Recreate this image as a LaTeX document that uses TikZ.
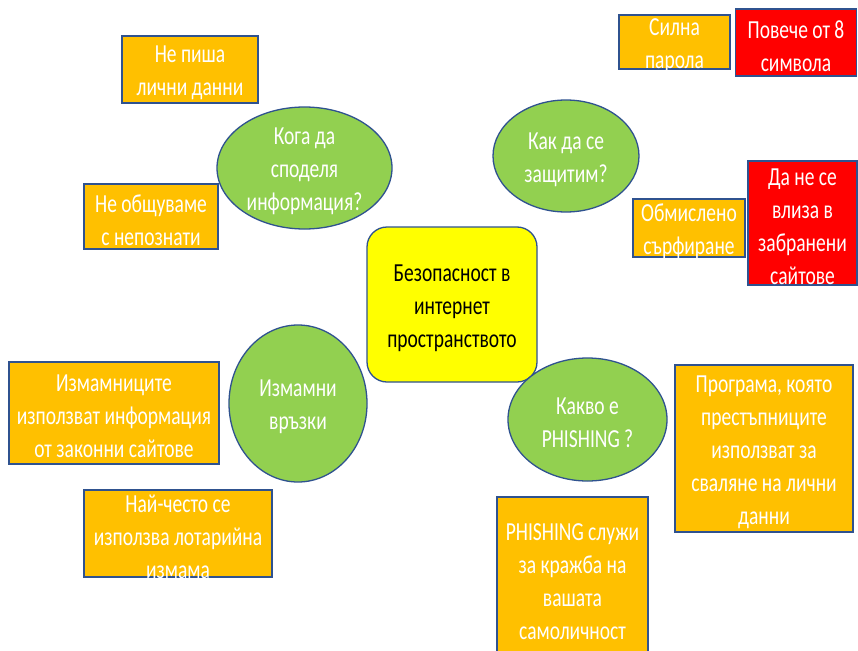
\documentclass[tikz,border=0pt]{standalone}
\usepackage{fontspec}
\newfontfamily\calfont{Carlito}[FakeStretch=0.75]
\usetikzlibrary{shapes.geometric}
\definecolor{edge}{HTML}{2F528F}
\definecolor{orng}{HTML}{FFC000}
\definecolor{rd}{HTML}{FF0000}
\definecolor{grn}{HTML}{92D050}
\definecolor{ylw}{HTML}{FFFF00}
\begin{document}
\begin{tikzpicture}[x=1pt,y=-1pt,
  base/.style={draw=edge, line width=1.3pt, inner sep=0pt},
  obox/.style={base, rectangle, fill=orng},
  rbox/.style={base, rectangle, fill=rd},
  gell/.style={base, ellipse, fill=grn},
  ybox/.style={base, rectangle, rounded corners=20pt, fill=ylw},
  txt/.style={inner sep=0pt, align=center, text=white, yshift=-3.5pt, font=\calfont\fontsize{26}{33}\selectfont},
  btxt/.style={txt, text=black}]
\useasboundingbox[fill=white] (0,0) rectangle (858,650);

% centre
\node[ybox, minimum width=170, minimum height=155] (center) at (452,304.5) {};
\node[btxt] (tcenter) at (center.center) {Безопасност в\\интернет\\пространството};

% top right
\node[obox, minimum width=111, minimum height=54] (silna) at (674.5,42) {};
\node[txt] (tsilna) at (silna.center) {Силна\\парола};
\node[rbox, minimum width=121, minimum height=67] (poveche) at (796,42.5) {};
\node[txt] (tpoveche) at (poveche.center) {Повече от 8\\символа};
\node[gell, minimum width=146, minimum height=112] (kak) at (566,156) {};
\node[txt] (tkak) at (kak.center) {Как да се\\защитим?};
\node[obox, minimum width=112, minimum height=58] (obm) at (689,228) {};
\node[txt] (tobm) at (obm.center) {Обмислено\\сърфиране};
\node[rbox, minimum width=109, minimum height=124] (dane) at (802.5,223) {};
\node[txt] (tdane) at (dane.center) {Да не се\\влиза в\\забранени\\сайтове};

% top left
\node[obox, minimum width=136, minimum height=67] (pisha) at (190,69.5) {};
\node[txt] (tpisha) at (pisha.center) {Не пиша\\лични данни};
\node[gell, minimum width=175, minimum height=122] (koga) at (304.5,168) {};
\node[txt] (tkoga) at (koga.center) {Кога да\\споделя\\информация?};
\node[obox, minimum width=134, minimum height=65] (obsht) at (151,216.5) {};
\node[txt] (tobsht) at (obsht.center) {Не общуваме\\с непознати};

% bottom left
\node[obox, minimum width=210, minimum height=102] (izmn) at (114,413) {};
\node[txt] (tizmn) at (izmn.center) {Измамниците\\използват информация\\от законни сайтове};
\node[gell, minimum width=138, minimum height=157] (izmv) at (298,403.5) {};
\node[txt] (tizmv) at (izmv.center) {Измамни\\връзки};
\node[obox, minimum width=188, minimum height=87] (lot) at (178,533.5) {};
\node[txt] (tlot) at (lot.center) {Най-често се\\използва лотарийна\\измама};

% bottom right
\node[gell, minimum width=159, minimum height=123] (kakvo) at (587.5,419.5) {};
\node[txt] (tkakvo) at (kakvo.center) {Какво е\\PHISHING ?};
\node[obox, minimum width=178, minimum height=167] (prog) at (764,448.5) {};
\node[txt] (tprog) at (prog.center) {Програма, която\\престъпниците\\използват за\\сваляне на лични\\данни};
\node[obox, minimum width=151, minimum height=163] (phish) at (572.5,578.5) {};
\node[txt] (tphish) at (phish.center) {PHISHING служи\\за кражба на\\вашата\\самоличност};
\end{tikzpicture}
\end{document}
